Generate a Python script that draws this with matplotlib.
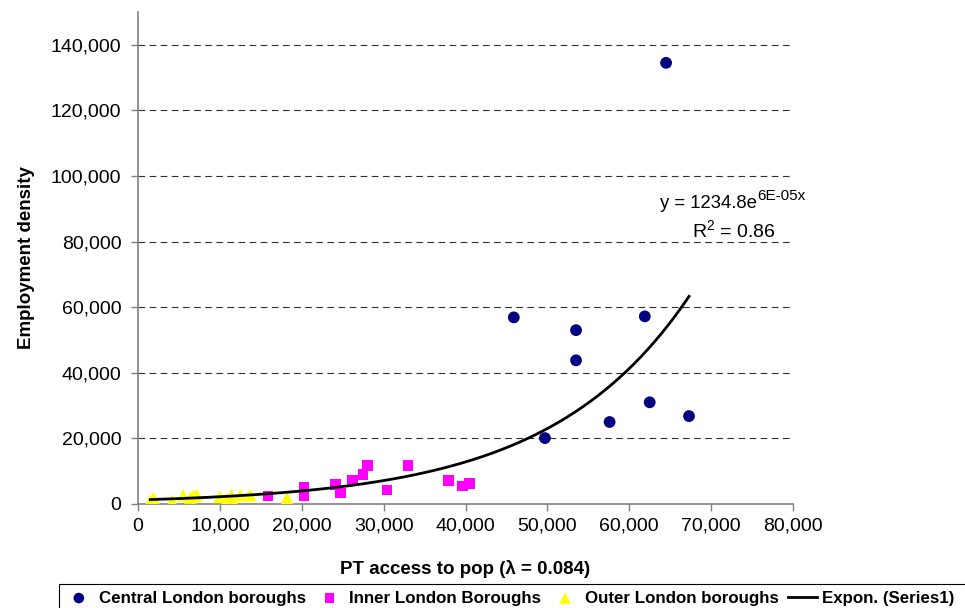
import numpy as np
import matplotlib
matplotlib.use("Agg")
import matplotlib.pyplot as plt
from matplotlib.patches import Rectangle
from matplotlib.ticker import FuncFormatter

plt.rcParams["font.family"] = ["Liberation Sans", "DejaVu Sans"]

# --- data ------------------------------------------------------------------
central_x = [45900, 49700, 53500, 53500, 57600, 61900, 62500, 64500, 67300]
central_y = [56900, 20100, 53000, 43800, 25000, 57200, 31000, 134500, 26800]

inner_x = [15900, 20300, 20300, 24100, 24700, 26200, 27500, 28000, 30400,
           33000, 37900, 39600, 40500]
inner_y = [2500, 5100, 2400, 6000, 3400, 7100, 9000, 11800, 4300,
           11700, 7100, 5500, 6300]

outer_x = [1500, 1900, 4200, 5500, 6400, 6800, 7200, 10000, 10800, 11400,
           11600, 12500, 13700, 18200]
outer_y = [1000, 1800, 900, 2700, 2000, 2500, 2700, 2200, 1500, 2700,
           1200, 2700, 2700, 1800]

# exponential trendline (Excel "Expon." fit)
fit_a, fit_b = 1234.8, 5.85e-5

# --- figure ------------------------------------------------------------------
fig = plt.figure(figsize=(9.65, 6.08), dpi=100)
ax = fig.add_axes([138 / 965, 104 / 608, 655 / 965, 492 / 608])

ax.scatter(central_x, central_y, s=72, marker="o", color="#000080",
           edgecolors="none", zorder=3, label="Central London boroughs")
ax.scatter(inner_x, inner_y, s=58, marker="s", color="#FF00FF",
           edgecolors="none", zorder=3, label="Inner London Boroughs")
ax.scatter(outer_x, outer_y, s=85, marker="^", color="#FFFF00",
           edgecolors="none", zorder=3, label="Outer London boroughs")

all_x = central_x + inner_x + outer_x
xs = np.linspace(min(all_x), max(all_x), 300)
ax.plot(xs, fit_a * np.exp(fit_b * xs), color="black", lw=2.0, zorder=4,
        label="Expon. (Series1)")

ax.set_xlim(0, 80000)
ax.set_ylim(0, 150000)
ax.set_xticks(np.arange(0, 80001, 10000))
ax.set_yticks(np.arange(0, 140001, 20000))
fmt = FuncFormatter(lambda v, p: f"{int(v):,}")
ax.xaxis.set_major_formatter(fmt)
ax.yaxis.set_major_formatter(fmt)

for yv in np.arange(20000, 140001, 20000):
    ax.axhline(yv, color="#303030", lw=0.8, dashes=(6, 4), zorder=1)

for s in ["top", "right"]:
    ax.spines[s].set_visible(False)
for s in ["left", "bottom"]:
    ax.spines[s].set_color("#808080")
    ax.spines[s].set_linewidth(1.2)
ax.tick_params(axis="both", direction="out", length=5, width=1,
               color="#808080", labelsize=14)
ax.tick_params(axis="y", pad=7)
ax.tick_params(axis="x", pad=5)

ax.set_xlabel("PT access to pop (\u03bb = 0.084)", fontsize=13.5,
              fontweight="bold", labelpad=18)
ax.set_ylabel("Employment density", fontsize=13.5, fontweight="bold",
              labelpad=11)

# trendline equation (superscript drawn as its own small text)
fig.text(757 / 965, 1 - 204 / 608, "y = 1234.8e", ha="right", va="center",
         fontsize=13.3)
fig.text(757 / 965, 1 - 196 / 608, "6E-05x", ha="left", va="center",
         fontsize=11)
fig.text(734 / 965, 1 - 231 / 608, r"R$^{\mathregular{2}}$ = 0.86",
         ha="center", va="center", fontsize=14)

# legend strip along the bottom
fig.patches.append(Rectangle((59 / 965, -0.02), 1.0, (608 - 584) / 608 + 0.02,
                             transform=fig.transFigure, fill=False,
                             edgecolor="black", lw=0.8))
h, l = ax.get_legend_handles_labels()
fig.legend(h, l, loc="center left", bbox_to_anchor=(64 / 965, 1 - 598 / 608),
           ncol=4, frameon=False, prop={"weight": "bold", "size": 12.2},
           handlelength=1.75, handletextpad=0.3, columnspacing=0.52,
           borderpad=0, borderaxespad=0, markerscale=0.9)

fig.savefig("out.png", dpi=100)
